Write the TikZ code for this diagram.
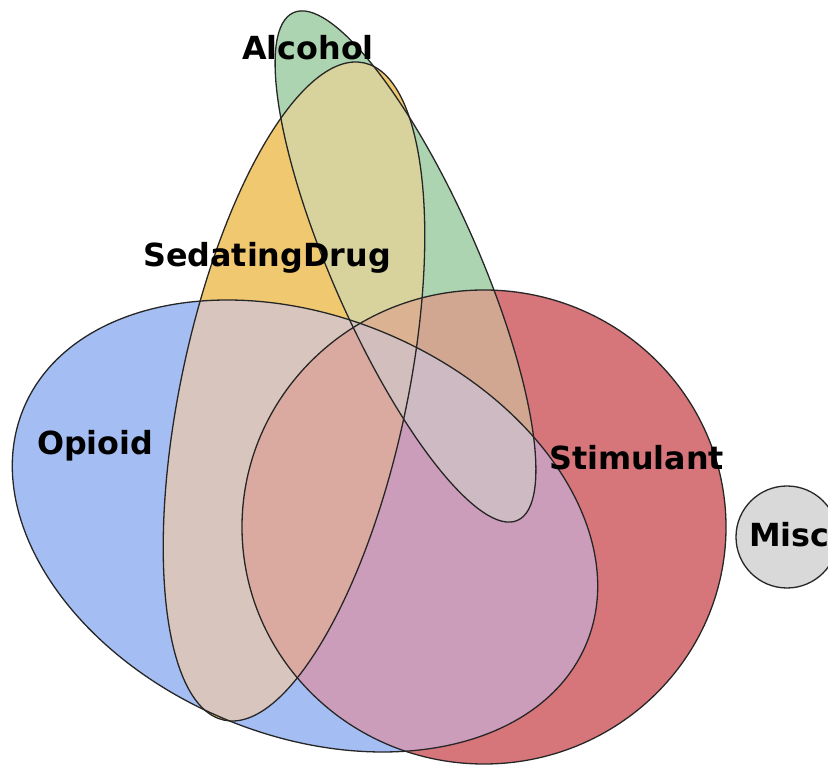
\documentclass[tikz,border=0pt]{standalone}
\usepackage{fontspec}
\setmainfont{DejaVu Sans}
\definecolor{cO}{RGB}{164,190,243}
\definecolor{cSt}{RGB}{214,117,122}
\definecolor{cSe}{RGB}{239,200,112}
\definecolor{cA}{RGB}{172,212,176}
\definecolor{cOSe}{RGB}{216,198,190}
\definecolor{cOSt}{RGB}{204,157,187}
\definecolor{cOA}{RGB}{190,205,215}
\definecolor{cSeSt}{RGB}{226,165,125}
\definecolor{cSeA}{RGB}{216,210,156}
\definecolor{cStA}{RGB}{209,167,145}
\definecolor{cOSeSt}{RGB}{218,170,160}
\definecolor{cOSeA}{RGB}{210,200,180}
\definecolor{cOStA}{RGB}{205,186,194}
\definecolor{cSeStA}{RGB}{219,179,146}
\definecolor{cAll}{RGB}{210,190,188}
\definecolor{cMisc}{RGB}{217,217,217}
\tikzset{
  eO/.style={rotate around={-22.75:(305,240)}},
  eSe/.style={rotate around={78:(294,374.5)}},
  eA/.style={rotate around={113.8:(405.5,499.5)}},
  eSt/.style={},
  outline/.style={draw=black!85, line width=1.3pt},
  lbl/.style={inner sep=0pt, anchor=base west, font=\fontsize{31.8}{32}\selectfont\bfseries, text=black}
}
\def\EO{(305,240) ellipse [x radius=305pt, y radius=209pt]}
\def\ESe{(294,374.5) ellipse [x radius=336pt, y radius=113pt]}
\def\EA{(405.5,499.5) ellipse [x radius=277.5pt, y radius=73pt]}
\def\ESt{(484,239) ellipse [x radius=242pt, y radius=237pt]}
\begin{document}
\begin{tikzpicture}[x=1pt,y=1pt]
\useasboundingbox (0,0) rectangle (828,766);
% single sets
\path[fill=cO,eO] \EO;
\path[fill=cSt,eSt] \ESt;
\path[fill=cSe,eSe] \ESe;
\path[fill=cA,eA] \EA;
% pairs
\begin{scope}\path[clip,eO] \EO; \path[fill=cOSe,eSe] \ESe;\end{scope}
\begin{scope}\path[clip,eO] \EO; \path[fill=cOSt,eSt] \ESt;\end{scope}
\begin{scope}\path[clip,eO] \EO; \path[fill=cOA,eA] \EA;\end{scope}
\begin{scope}\path[clip,eSe] \ESe; \path[fill=cSeSt,eSt] \ESt;\end{scope}
\begin{scope}\path[clip,eSe] \ESe; \path[fill=cSeA,eA] \EA;\end{scope}
\begin{scope}\path[clip,eSt] \ESt; \path[fill=cStA,eA] \EA;\end{scope}
% triples
\begin{scope}\path[clip,eO] \EO; \path[clip,eSe] \ESe; \path[fill=cOSeSt,eSt] \ESt;\end{scope}
\begin{scope}\path[clip,eO] \EO; \path[clip,eSe] \ESe; \path[fill=cOSeA,eA] \EA;\end{scope}
\begin{scope}\path[clip,eO] \EO; \path[clip,eSt] \ESt; \path[fill=cOStA,eA] \EA;\end{scope}
\begin{scope}\path[clip,eSe] \ESe; \path[clip,eSt] \ESt; \path[fill=cSeStA,eA] \EA;\end{scope}
% all four
\begin{scope}\path[clip,eO] \EO; \path[clip,eSe] \ESe; \path[clip,eSt] \ESt; \path[fill=cAll,eA] \EA;\end{scope}
% outlines
\path[outline,eO] \EO;
\path[outline,eSt] \ESt;
\path[outline,eSe] \ESe;
\path[outline,eA] \EA;
% misc
\path[outline,fill=cMisc] (787,229) circle [radius=51pt];
% labels
\node[lbl] (alcohol) at (242,706) {Alcohol};
\node[lbl] (sedating) at (143,499) {SedatingDrug};
\node[lbl] (opioid) at (37,311) {Opioid};
\node[lbl] (stimulant) at (549,296) {Stimulant};
\node[lbl] (misc) at (749,219) {Misc};
\end{tikzpicture}
\end{document}
